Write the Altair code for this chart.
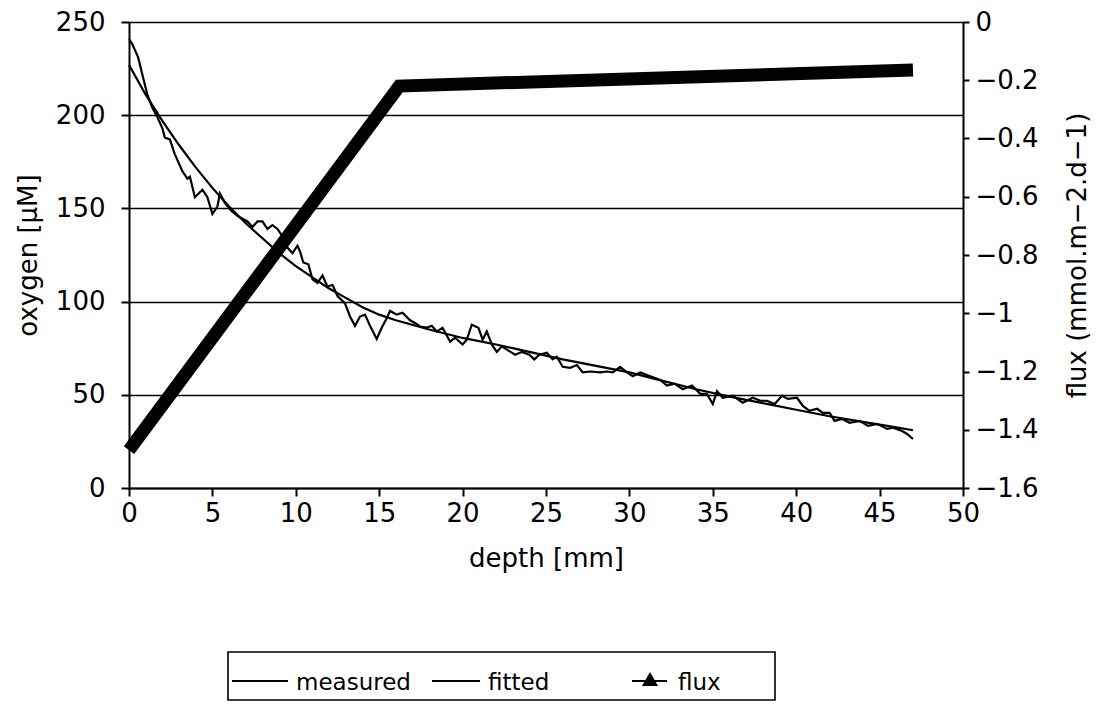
import altair as alt
import pandas as pd

# ---------------- data ----------------
meas_depth = [0.0, 0.2, 0.55, 0.85, 1.1, 1.4, 1.7, 2.0, 2.15, 2.45, 2.75, 3.2, 3.5, 3.65,
              3.95, 4.4, 4.7, 5.0, 5.3, 5.45, 5.75, 6.1, 6.5, 7.1, 7.4, 7.7, 8.0, 8.3,
              8.6, 8.9, 9.2, 9.5, 9.8, 10.1, 10.25, 10.45, 10.75, 11.0, 11.3, 11.6, 11.9,
              12.2, 12.5, 12.95, 13.25, 13.55, 13.85, 14.15, 14.45, 14.85, 15.15, 15.45,
              15.65, 16.05, 16.4, 16.85, 17.25, 17.45, 17.85, 18.15, 18.45, 18.8, 19.25,
              19.55, 20.0, 20.25, 20.55, 20.95, 21.2, 21.45, 21.75, 22.05, 22.35, 22.7,
              23.15, 23.55, 24.0, 24.3, 24.6, 25.05, 25.4, 25.65, 26.0, 26.45, 26.85,
              27.2, 27.65, 28.25, 28.65, 29.0, 29.45, 29.85, 30.2, 30.65, 31.25, 31.85,
              32.25, 32.7, 33.2, 33.75, 34.25, 34.65, 35.0, 35.25, 35.6, 36.2, 36.8,
              37.4, 37.85, 38.25, 38.7, 39.15, 39.5, 40.05, 40.4, 40.8, 41.25, 41.6,
              42.0, 42.3, 42.75, 43.2, 43.8, 44.3, 44.85, 45.45, 45.8, 46.35, 46.65, 47.0]
meas_oxygen = [241, 238, 231, 220, 211, 204, 199, 193, 188, 187, 179, 170, 166, 167,
               156, 160, 156, 147, 151, 158, 153, 149, 146, 143, 140, 143, 143, 139,
               141, 139, 135, 129, 126, 130, 127, 121, 120, 112, 110, 114, 108,
               109, 103, 99, 92, 87, 92, 93, 87, 80, 86, 91,
               95, 93, 94, 90, 88, 86.6, 86, 87, 84, 86, 78.5,
               80.6, 77, 79.6, 87.6, 86, 79.6, 84, 77, 73, 76, 74,
               71.5, 73, 71.5, 69, 71.5, 72.6, 69, 70.4, 65, 64.5, 66,
               62, 62.5, 62, 62.5, 62, 65, 62, 60, 62, 60, 58,
               55, 56, 53, 55, 50.5, 50.5, 45, 52, 48.4, 49.5, 45.7,
               48.4, 46.8, 46.8, 45, 49.5, 47.8, 48.4, 44, 41.4, 42.5, 40.3,
               40.3, 36, 37, 35, 36, 33.3, 34.4, 31.7, 32.3, 30.6, 29, 26.3]

fit_depth = [0, 1, 2, 3, 4, 5, 6, 7, 8, 9, 10, 11, 12, 13, 14, 15, 16, 18, 20, 22, 24,
             26, 28, 30, 32, 34, 36, 38, 40, 42, 44, 46, 47]
fit_oxygen = [227, 211, 197, 184, 172, 161, 151, 142, 134, 126, 119, 113, 107, 102, 97,
              93, 90, 85, 80.5, 77, 73, 69, 65.5, 62, 57.5, 53, 49, 45.5, 42, 38.5,
              35.5, 32.5, 31]

flux_depth = [0, 16.2, 47]
flux_value = [-1.47, -0.22, -0.165]

x_ticks = [0, 5, 10, 15, 20, 25, 30, 35, 40, 45, 50]
oxy_ticks = [0, 50, 100, 150, 200, 250]
flux_ticks = [0, -0.2, -0.4, -0.6, -0.8, -1, -1.2, -1.4, -1.6]
legend_labels = ["measured", "fitted", "flux"]

FONT = "DejaVu Sans"
W, H = 834, 466

oxy_df = pd.concat([
    pd.DataFrame({"depth": meas_depth, "oxygen": meas_oxygen, "series": legend_labels[0]}),
    pd.DataFrame({"depth": fit_depth, "oxygen": fit_oxygen, "series": legend_labels[1]}),
], ignore_index=True)
flux_df = pd.DataFrame({"depth": flux_depth, "flux": flux_value})
one = pd.DataFrame({"k": [0]})

x_enc = alt.X("depth:Q",
              scale=alt.Scale(domain=[0, 50], nice=False, zero=False),
              axis=alt.Axis(values=x_ticks, title="depth [mm]", grid=False,
                            tickSize=8, labelPadding=4, titlePadding=19,
                            labelFlush=False))

oxy = alt.Chart(oxy_df).mark_line(color="black", strokeWidth=2.2).encode(
    x=x_enc,
    y=alt.Y("oxygen:Q",
            scale=alt.Scale(domain=[0, 250], nice=False),
            axis=alt.Axis(orient="left", values=oxy_ticks, title="oxygen [µM]",
                          grid=True, gridColor="black", gridWidth=1.6, gridOpacity=1,
                          tickSize=8, labelPadding=16, titlePadding=14)),
    detail="series:N",
)

flux = alt.Chart(flux_df).mark_line(color="black", strokeWidth=13, strokeCap="butt",
                                    strokeJoin="miter").encode(
    x=x_enc,
    y=alt.Y("flux:Q",
            scale=alt.Scale(domain=[-1.6, 0], nice=False, zero=False),
            axis=alt.Axis(orient="right", values=flux_ticks, format="~g",
                          title="flux (mmol.m−2.d−1)", titleAngle=270,
                          grid=False, tickSize=6, labelPadding=6, titlePadding=52)),
)

# ---------------- legend (drawn by hand below the chart) ----------------
LY = 659
box = alt.Chart(one).mark_rect(fill="transparent", stroke="black", strokeWidth=1.6).encode(
    x=alt.value(99), x2=alt.value(646), y=alt.value(630), y2=alt.value(678))
leg_parts = [box]
for x1, x2 in [(103, 159), (303, 351), (503, 538)]:
    leg_parts.append(alt.Chart(one).mark_rule(color="black", strokeWidth=1.8).encode(
        x=alt.value(x1), x2=alt.value(x2), y=alt.value(LY)))
leg_parts.append(alt.Chart(one).mark_point(shape="triangle-up", filled=True, color="black",
                                           size=260, opacity=1).encode(
    x=alt.value(521), y=alt.value(LY - 2)))
for xt, lab in [(167, legend_labels[0]), (359, legend_labels[1]), (549, legend_labels[2])]:
    leg_parts.append(alt.Chart(one).mark_text(align="left", baseline="alphabetic",
                                              font=FONT, fontSize=23, color="black").encode(
        x=alt.value(xt), y=alt.value(LY + 9), text=alt.value(lab)))

chart = alt.layer(oxy, flux, *leg_parts).resolve_scale(y="independent").properties(
    width=W, height=H,
    background="white",
    autosize=alt.AutoSizeParams(type="none"),
    padding={"left": 121, "top": 14, "right": 131, "bottom": 216},
).configure_axis(
    labelFont=FONT, labelFontSize=26, labelColor="black",
    titleFont=FONT, titleFontSize=26, titleColor="black", titleFontWeight="normal",
    domainColor="black", domainWidth=2, tickColor="black", tickWidth=2,
).configure_view(strokeWidth=0)

chart.save("out.html", embed_options={"renderer": "svg", "actions": False})
